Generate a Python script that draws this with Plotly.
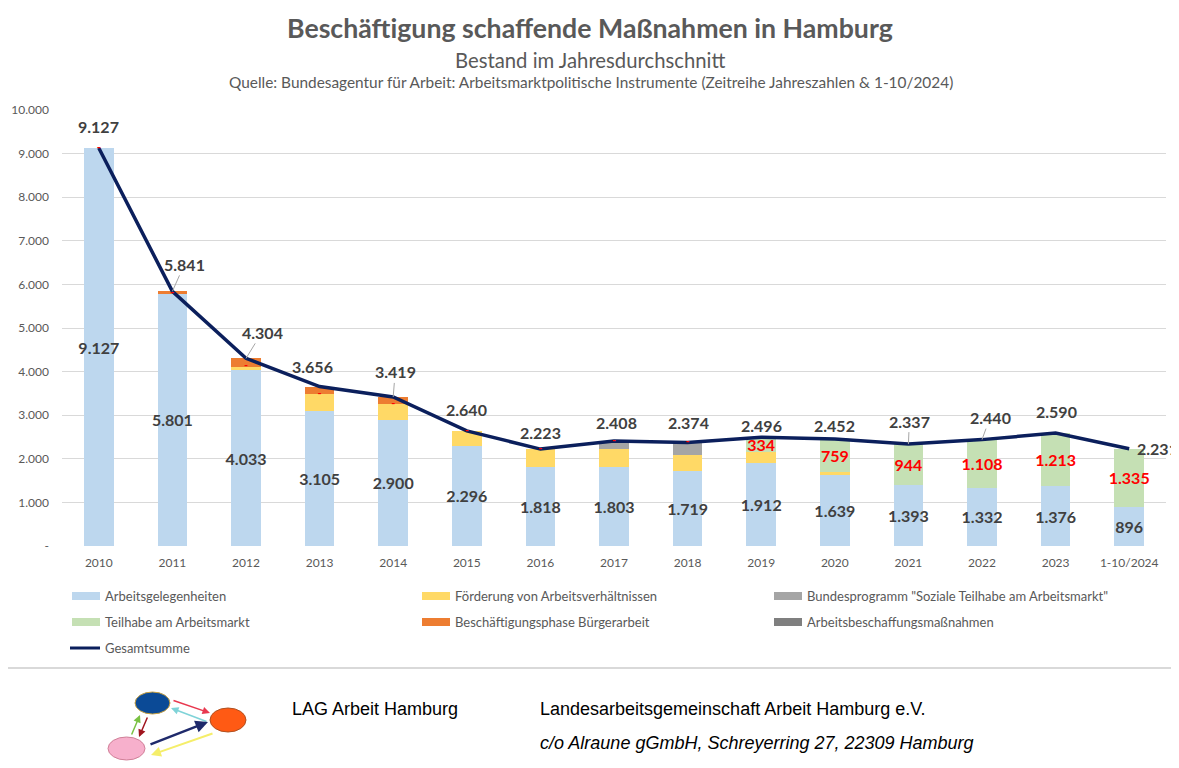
import plotly.graph_objects as go

# ---------------- data ----------------
categories = ["2010", "2011", "2012", "2013", "2014", "2015", "2016", "2017",
              "2018", "2019", "2020", "2021", "2022", "2023", "1-10/2024"]
arbeitsgelegenheiten = [9127, 5801, 4033, 3105, 2900, 2296, 1818, 1803, 1719, 1912, 1639, 1393, 1332, 1376, 896]
foerderung = [0, 0, 80, 374, 350, 344, 405, 420, 375, 250, 54, 0, 0, 0, 0]
bundesprogramm = [0, 0, 0, 0, 0, 0, 0, 185, 280, 0, 0, 0, 0, 0, 0]
teilhabe = [0, 0, 0, 0, 0, 0, 0, 0, 0, 334, 759, 944, 1108, 1213, 1335]
buergerarbeit = [0, 40, 191, 177, 169, 0, 0, 0, 0, 0, 0, 0, 0, 0, 0]
abm = [0, 0, 0, 0, 0, 0, 0, 0, 0, 0, 0, 0, 0, 0, 0]
gesamtsumme = [9127, 5841, 4304, 3656, 3419, 2640, 2223, 2408, 2374, 2496, 2452, 2337, 2440, 2590, 2231]
y_ticks = [0, 1000, 2000, 3000, 4000, 5000, 6000, 7000, 8000, 9000, 10000]


def fmt(v):
    return "-" if v == 0 else f"{v:,}".replace(",", ".")


# ---------------- layout geometry ----------------
OFF = 8                      # page body margin of the html page
W, H = 1179 - OFF, 768 - OFF
ML, MT = 62 - OFF, 110 - OFF
PW, PH = 1104, 436
MR = W - ML - PW
MB = H - MT - PH


def px(sx):                  # screen x -> paper x
    return (sx - OFF - ML) / PW


def py(sy):                  # screen y -> paper y
    return (OFF + MT + PH - sy) / PH


FONT = "Lato"
GREY = "#595959"
DARK = "#404040"

fig = go.Figure()

bar_common = dict(width=0.4, marker_line_width=0, hoverinfo="skip", showlegend=False)
series = [
    ("Arbeitsgelegenheiten", arbeitsgelegenheiten, "#BDD7EE", DARK, True),
    ("Förderung von Arbeitsverhältnissen", foerderung, "#FFD966", None, False),
    ('Bundesprogramm "Soziale Teilhabe am Arbeitsmarkt"', bundesprogramm, "#A5A5A5", None, False),
    ("Teilhabe am Arbeitsmarkt", teilhabe, "#C5E0B4", "#FF0000", True),
    ("Beschäftigungsphase Bürgerarbeit", buergerarbeit, "#ED7D31", None, False),
    ("Arbeitsbeschaffungsmaßnahmen", abm, "#7F7F7F", None, False),
]
for name, vals, col, tcol, labels in series:
    kw = {}
    if labels:
        kw = dict(text=[fmt(v) if v else "" for v in vals], textposition="inside",
                  insidetextanchor="middle", constraintext="none", textangle=0,
                  textfont=dict(family=FONT, size=16, color=tcol, weight="bold"))
    fig.add_trace(go.Bar(name=name, x=categories, y=vals, marker_color=col, **kw, **bar_common))

LINE_COL = "#0B1F5C"
fig.add_trace(go.Scatter(
    name="Gesamtsumme", x=categories, y=gesamtsumme, mode="lines", showlegend=False,
    line=dict(color=LINE_COL, width=3.5), hoverinfo="skip"))

# red "-" labels for zero values of Teilhabe am Arbeitsmarkt
zero_x, zero_y = [], []
for c, a, f, b, t in zip(categories, arbeitsgelegenheiten, foerderung, bundesprogramm, teilhabe):
    if t == 0:
        zero_x.append(c)
        zero_y.append(a + f + b)
fig.add_trace(go.Scatter(
    x=zero_x, y=zero_y, mode="text", text=["-"] * len(zero_x), showlegend=False,
    textfont=dict(family=FONT, size=11, color="#FF0000", weight="bold"), hoverinfo="skip"))

# total labels (x given as category index so the category axis is not stretched)
offsets = [(0, -22, False), (12, -27, True), (16, -26, True), (-7, -20, False), (2, -25, True),
           (0, -21, False), (0, -17, False), (2, -19, False), (1, -20, False), (0, -12, False),
           (0, -14, False), (1, -23, True), (8, -22, True), (1, -22, False), (28, 0, False)]
for i, (v, (ax, ay, lead)) in enumerate(zip(gesamtsumme, offsets)):
    fig.add_annotation(
        x=i, y=v, text=fmt(v), showarrow=True, ax=ax, ay=ay, arrowhead=0, arrowwidth=1,
        arrowcolor="#A6A6A6" if lead else "rgba(0,0,0,0)", standoff=0,
        font=dict(family=FONT, size=16, color=DARK, weight="bold"))

# titles
fig.add_annotation(xref="paper", yref="paper", x=px(590), y=py(28), showarrow=False,
                   text="<b>Beschäftigung schaffende Maßnahmen in Hamburg</b>",
                   font=dict(family=FONT, size=26.7, color=GREY), xanchor="center", yanchor="middle")
fig.add_annotation(xref="paper", yref="paper", x=px(590), y=py(60), showarrow=False,
                   text="Bestand im Jahresdurchschnitt",
                   font=dict(family=FONT, size=20.3, color=GREY), xanchor="center", yanchor="middle")
fig.add_annotation(xref="paper", yref="paper", x=px(591), y=py(82), showarrow=False,
                   text="Quelle: Bundesagentur für Arbeit: Arbeitsmarktpolitische Instrumente (Zeitreihe Jahreszahlen & 1-10/2024)",
                   font=dict(family=FONT, size=15.4, color=GREY), xanchor="center", yanchor="middle")

# legend (drawn manually to match the reference grid)
legend_cols = [104, 454, 806]
legend_rows = [596, 622, 648]
for i, (name, vals, col, tcol, labels) in enumerate(series):
    tx = legend_cols[i % 3]
    ty = legend_rows[i // 3]
    fig.add_shape(type="rect", xref="paper", yref="paper", x0=px(tx - 32), x1=px(tx - 4),
                  y0=py(ty + 4), y1=py(ty - 4), fillcolor=col, line=dict(width=0))
    fig.add_annotation(xref="paper", yref="paper", x=px(tx - 1), y=py(ty), text=name, showarrow=False,
                       xanchor="left", yanchor="middle", font=dict(family=FONT, size=13, color=GREY))
tx, ty = legend_cols[0], legend_rows[2]
fig.add_shape(type="line", xref="paper", yref="paper", x0=px(tx - 34), x1=px(tx - 4),
              y0=py(ty), y1=py(ty), line=dict(color=LINE_COL, width=3))
fig.add_annotation(xref="paper", yref="paper", x=px(tx - 1), y=py(ty), text="Gesamtsumme", showarrow=False,
                   xanchor="left", yanchor="middle", font=dict(family=FONT, size=13, color=GREY))

# separator line
fig.add_shape(type="line", xref="paper", yref="paper", x0=px(0), x1=px(1179), y0=py(668), y1=py(668),
              line=dict(color="#D9D9D9", width=2))

# footer texts
FOOT = dict(family="Liberation Sans", size=18, color="#000000")
fig.add_annotation(xref="paper", yref="paper", x=px(290), y=py(709), showarrow=False,
                   text="LAG Arbeit Hamburg", xanchor="left", yanchor="middle", font=FOOT)
fig.add_annotation(xref="paper", yref="paper", x=px(538), y=py(709), showarrow=False,
                   text="Landesarbeitsgemeinschaft Arbeit Hamburg e.V.", xanchor="left", yanchor="middle", font=FOOT)
fig.add_annotation(xref="paper", yref="paper", x=px(538), y=py(743), showarrow=False,
                   text="<i>c/o Alraune gGmbH, Schreyerring 27, 22309 Hamburg</i>", xanchor="left",
                   yanchor="middle", font=FOOT)

# logo
circles = [((135, 692, 170, 714), "#0B4A96", "#C8A040"),
           ((210, 708, 246, 732), "#FF5A14", "#B05020"),
           ((108, 737, 145, 760), "#F7B0CC", "#D08098")]
for (x0, y0, x1, y1), fill, edge in circles:
    fig.add_shape(type="circle", xref="paper", yref="paper", x0=px(x0), x1=px(x1), y0=py(y1), y1=py(y0),
                  fillcolor=fill, line=dict(color=edge, width=1))
arrows = [((172, 700), (210, 713), "#E8384F", 1.5),
          ((208, 722), (171, 708), "#7FD3D8", 1.5),
          ((131, 736), (140, 715), "#7AC143", 1.5),
          ((148, 716), (139, 737), "#A0151E", 1.5),
          ((149, 745), (208, 722), "#1F2A6B", 2.5),
          ((214, 733), (151, 755), "#F5EE6A", 2)]
for (tx, ty), (hx, hy), col, wdt in arrows:
    fig.add_annotation(xref="paper", yref="paper", x=px(hx), y=py(hy), ax=tx - hx, ay=ty - hy,
                       text="", showarrow=True, arrowhead=2, arrowsize=1, arrowwidth=wdt,
                       arrowcolor=col, standoff=0)

fig.update_layout(
    width=W, height=H, barmode="stack", bargap=0.6, showlegend=False,
    margin=dict(l=ML, r=MR, t=MT, b=MB, autoexpand=False),
    paper_bgcolor="white", plot_bgcolor="white",
    font=dict(family=FONT, color=GREY),
    xaxis=dict(type="category", range=[-0.5, len(categories) - 0.5], showgrid=False, showline=False,
               ticks="", ticklabelstandoff=8, tickfont=dict(family=FONT, size=12, color=GREY)),
    yaxis=dict(range=[0, 10000], tickvals=y_ticks, ticktext=[fmt(v) for v in y_ticks],
               gridcolor="#D9D9D9", gridwidth=1, zeroline=False, showline=False, ticks="",
               ticklabelstandoff=12, tickfont=dict(family=FONT, size=12, color=GREY)),
)

fig.write_html("out.html")
